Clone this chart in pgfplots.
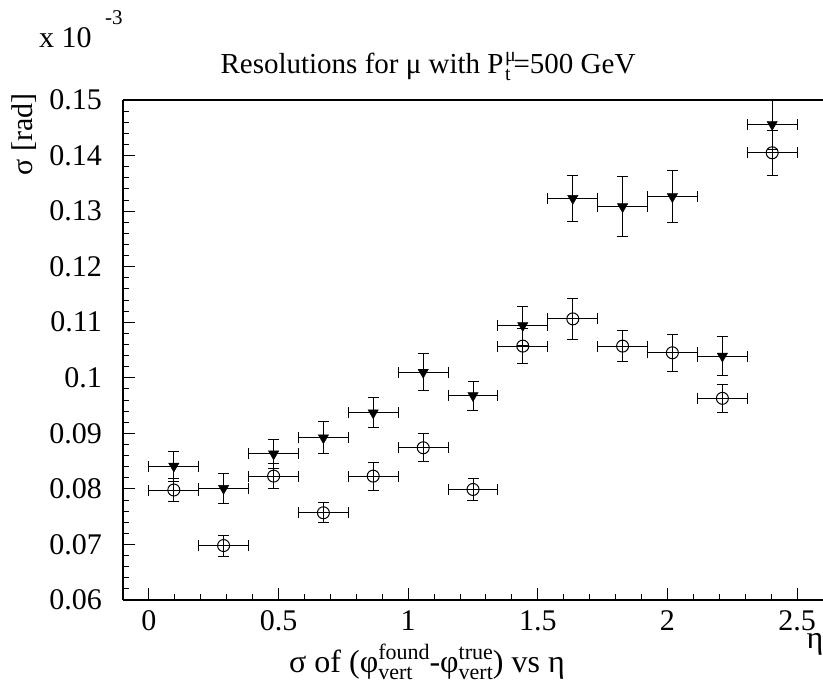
\documentclass[border=0pt]{standalone}
\usepackage{fontspec}
\setmainfont{Liberation Serif}
\usepackage{pgfplots}
\pgfplotsset{compat=1.18}
\pgfplotstableread{
x y ey
0.096 0.0841 0.0027
0.288 0.0801 0.0027
0.481 0.0863 0.0026
0.673 0.0892 0.0029
0.865 0.0937 0.0027
1.058 0.1010 0.0033
1.250 0.0968 0.0026
1.442 0.1094 0.0035
1.635 0.1323 0.0041
1.827 0.1308 0.0054
2.019 0.1326 0.0047
2.212 0.1039 0.0035
2.404 0.1456 0.0045
}\tritab
\pgfplotstableread{
x y ey
0.096 0.0798 0.0021
0.288 0.0698 0.0019
0.481 0.0823 0.0023
0.673 0.0757 0.0018
0.865 0.0823 0.0025
1.058 0.0874 0.0025
1.250 0.0799 0.0020
1.442 0.1057 0.0031
1.635 0.1106 0.0037
1.827 0.1057 0.0028
2.019 0.1045 0.0033
2.212 0.0963 0.0025
2.404 0.1405 0.0040
}\circtab
\begin{document}
\begin{tikzpicture}
\begin{axis}[
  at={(0pt,0pt)}, anchor=south west,
  scale only axis, width=700pt, height=500pt,
  xmin=-0.1, xmax=2.6, ymin=0.06, ymax=0.15,
  axis x line*=box, axis y line*=left,
  axis line style={line width=1.1pt},
  xtick={0,0.5,...,2.5}, minor x tick num=4,
  ytick={0.06,0.07,...,0.15}, minor y tick num=4,
  xtick pos=bottom, ytick pos=left,
  tick align=inside,
  major tick length=12pt, minor tick length=6pt,
  tick style={line width=1pt, black},
  scaled y ticks=false,
  /pgf/number format/assume math mode=true,
  yticklabel style={/pgf/number format/fixed, /pgf/number format/precision=2, font=\fontsize{30}{34}\selectfont, anchor=east, inner sep=0pt, xshift=-21pt},
  xticklabel style={font=\fontsize{30}{34}\selectfont, anchor=base, inner sep=0pt, yshift=-30pt},
  error bars/error bar style={line width=1pt, black},
  error bars/error mark=|,
  error bars/error mark options={mark size=5.5pt, line width=1pt, black},
  clip=true,
]
\addplot[only marks, mark=triangle*, mark size=6pt, mark options={rotate=180, fill=black, draw=black},
  error bars/.cd, x dir=both, x fixed=0.0962, y dir=both, y explicit]
  table[x=x, y=y, y error=ey] {\tritab};
\addplot[only marks, mark=o, mark size=6pt, mark options={fill=white, draw=black, line width=1pt},
  error bars/.cd, x dir=both, x fixed=0.0962, y dir=both, y explicit]
  table[x=x, y=y, y error=ey] {\circtab};
\end{axis}
\node[anchor=base west, inner sep=0pt, font=\fontsize{30}{34}\selectfont] at (-84pt,552pt) {x 10};
\node[anchor=base west, inner sep=0pt, font=\fontsize{21}{24}\selectfont] at (-18pt,575pt) {-3};
\node[anchor=base, inner sep=0pt, font=\fontsize{29}{33}\selectfont] at (305pt,526pt) {Resolutions for μ with P\kern1.5pt\rlap{\raisebox{12pt}{\fontsize{20}{22}\selectfont μ}}\raisebox{-7pt}{\fontsize{20}{22}\selectfont t}\kern3pt=500 GeV};
\node[rotate=90, anchor=base east, inner sep=0pt, font=\fontsize{30}{34}\selectfont] at (-90pt,507pt) {σ [rad]};
\node[anchor=base, inner sep=0pt, font=\fontsize{32}{36}\selectfont] at (304pt,-72pt) {σ of (φ\rlap{\raisebox{-7pt}{\fontsize{22}{24}\selectfont vert}}\raisebox{13pt}{\fontsize{22}{24}\selectfont found}-φ\rlap{\raisebox{-7pt}{\fontsize{22}{24}\selectfont vert}}\raisebox{13pt}{\fontsize{22}{24}\selectfont true}) vs η};
\node[anchor=base, inner sep=0pt, font=\fontsize{32}{36}\selectfont] at (692pt,-48pt) {η};
\pgfresetboundingbox
\path (-123pt,-89pt) rectangle (700pt,600pt);
\end{tikzpicture}
\end{document}
